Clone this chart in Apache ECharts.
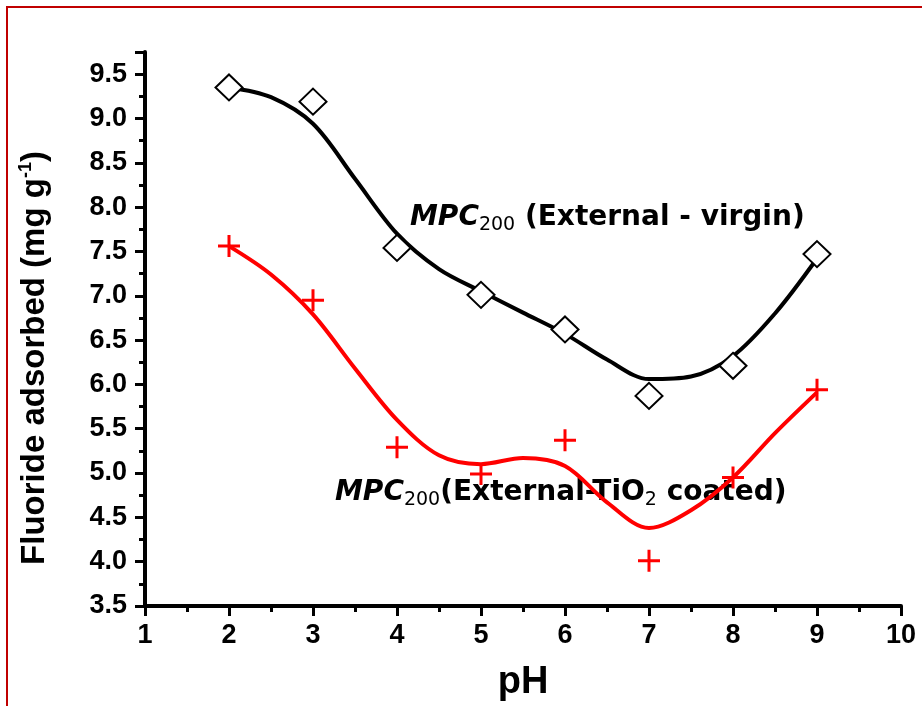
<!DOCTYPE html>
<html>
<head>
<meta charset="utf-8">
<script src="https://cdn.jsdelivr.net/npm/echarts@6/dist/echarts.min.js"></script>
<style>
html,body{margin:0;padding:0;background:#fff;}
#chart{width:922px;height:706px;}
</style>
</head>
<body>
<div id="chart"></div>
<script>
// measured points
const phValues = [2, 3, 4, 5, 6, 7, 8, 9];
const virginValues = [9.35, 9.19, 7.54, 7.01, 6.62, 5.87, 6.21, 7.47];
const coatedValues = [7.56, 6.95, 5.29, 4.99, 5.37, 4.01, 4.95, 5.94];
// fitted curves
const curvePH = [2, 2.5, 3, 3.5, 4, 4.5, 5, 5.5, 6, 6.5, 7, 7.5, 8, 8.5, 9];
const virginFit = [9.35, 9.24, 8.94, 8.32, 7.70, 7.30, 7.05, 6.81, 6.57, 6.28, 6.06, 6.09, 6.32, 6.80, 7.42];
const coatedFit = [7.56, 7.24, 6.79, 6.18, 5.60, 5.20, 5.10, 5.17, 5.08, 4.67, 4.38, 4.58, 4.95, 5.45, 5.91];
// axes
const xTicks = [1, 2, 3, 4, 5, 6, 7, 8, 9, 10];
const yTicks = ['3.5','4.0','4.5','5.0','5.5','6.0','6.5','7.0','7.5','8.0','8.5','9.0','9.5'];

const pair = (xs, ys) => xs.map((x, i) => [x, ys[i]]);
const plusPath = 'path://M9.5,0 H12.5 V9.5 H22 V12.5 H12.5 V22 H9.5 V12.5 H0 V9.5 H9.5 Z';
const axisFont = 'Liberation Sans, Arial, sans-serif';
const noteFont = 'DejaVu Sans';

const chart = echarts.init(document.getElementById('chart'));
chart.setOption({
  animation: false,
  backgroundColor: '#ffffff',
  grid: { left: 145, right: 21, top: 52, bottom: 100, containLabel: false, outerBoundsMode: 'none' },
  xAxis: {
    type: 'value', min: xTicks[0], max: xTicks[xTicks.length - 1], interval: 1,
    name: 'pH', nameLocation: 'middle', nameGap: 58,
    nameTextStyle: { fontFamily: axisFont, fontWeight: 'bold', fontSize: 38, color: '#000' },
    axisLine: { show: true, onZero: false, lineStyle: { color: '#000', width: 4 } },
    axisTick: { show: true, inside: false, length: 10, lineStyle: { color: '#000', width: 3 } },
    minorTick: { show: true, splitNumber: 2, length: 6, lineStyle: { color: '#000', width: 3 } },
    splitLine: { show: false },
    axisLabel: { fontFamily: axisFont, fontWeight: 'bold', fontSize: 27, color: '#000', margin: 16 }
  },
  yAxis: {
    type: 'value', min: 3.5, max: 9.75, interval: 0.5,
    axisLine: { show: true, onZero: false, lineStyle: { color: '#000', width: 4 } },
    axisTick: { show: true, inside: false, length: 10, lineStyle: { color: '#000', width: 3 } },
    minorTick: { show: true, splitNumber: 2, length: 6, lineStyle: { color: '#000', width: 3 } },
    splitLine: { show: false },
    axisLabel: {
      fontFamily: axisFont, fontWeight: 'bold', fontSize: 27, color: '#000', margin: 18,
      formatter: v => {
        const s = v.toFixed(1);
        return yTicks.indexOf(s) >= 0 && Math.abs(v * 2 - Math.round(v * 2)) < 1e-6 ? s : '';
      }
    }
  },
  series: [
    {
      type: 'line', name: 'virgin fit', data: pair(curvePH, virginFit), smooth: 0.33,
      showSymbol: false, lineStyle: { color: '#000', width: 4 }, z: 2
    },
    {
      type: 'line', name: 'coated fit', data: pair(curvePH, coatedFit), smooth: 0.33,
      showSymbol: false, lineStyle: { color: '#ff0000', width: 4 }, z: 2
    },
    {
      type: 'scatter', name: 'MPC200 (External - virgin)', data: pair(phValues, virginValues),
      symbol: 'diamond', symbolSize: [27, 26],
      itemStyle: { color: '#fff', borderColor: '#000', borderWidth: 2, opacity: 1 }, z: 3
    },
    {
      type: 'scatter', name: 'MPC200(External-TiO2 coated)', data: pair(phValues, coatedValues),
      symbol: plusPath, symbolSize: 22,
      itemStyle: { color: '#ff0000', opacity: 1 }, z: 3
    }
  ],
  graphic: [
    {
      type: 'rect', silent: true,
      shape: { x: 7, y: 7, width: 1000, height: 1000 },
      style: { fill: 'none', stroke: '#c00000', lineWidth: 2 }
    },
    {
      type: 'text', x: 35, y: 358, rotation: Math.PI / 2,
      style: {
        text: '{t|Fluoride adsorbed (mg g}{s|-1}{t|)}',
        align: 'center', verticalAlign: 'middle',
        rich: {
          t: { fontFamily: axisFont, fontWeight: 'bold', fontSize: 33, fill: '#000', lineHeight: 36 },
          s: { fontFamily: axisFont, fontWeight: 'bold', fontSize: 18, fill: '#000', lineHeight: 36, verticalAlign: 'top', padding: [0, 0, 16, 0] }
        }
      }
    },
    {
      type: 'text', x: 410, y: 218,
      style: {
        text: '{m|MPC}{s|200}{n| (External - virgin)}',
        align: 'left', verticalAlign: 'middle',
        rich: {
          m: { fontFamily: noteFont, fontWeight: 'bold', fontStyle: 'italic', fontSize: 28, fill: '#000', lineHeight: 34 },
          s: { fontFamily: noteFont, fontSize: 19, fill: '#000', lineHeight: 34, verticalAlign: 'bottom', padding: [9, 0, 0, 0] },
          n: { fontFamily: noteFont, fontWeight: 'bold', fontSize: 28, fill: '#000', lineHeight: 34 }
        }
      }
    },
    {
      type: 'text', x: 335, y: 493,
      style: {
        text: '{m|MPC}{s|200}{n|(External-TiO}{s|2}{n| coated)}',
        align: 'left', verticalAlign: 'middle',
        rich: {
          m: { fontFamily: noteFont, fontWeight: 'bold', fontStyle: 'italic', fontSize: 28, fill: '#000', lineHeight: 34 },
          s: { fontFamily: noteFont, fontSize: 19, fill: '#000', lineHeight: 34, verticalAlign: 'bottom', padding: [9, 0, 0, 0] },
          n: { fontFamily: noteFont, fontWeight: 'bold', fontSize: 28, fill: '#000', lineHeight: 34 }
        }
      }
    }
  ]
});
</script>
</body>
</html>
